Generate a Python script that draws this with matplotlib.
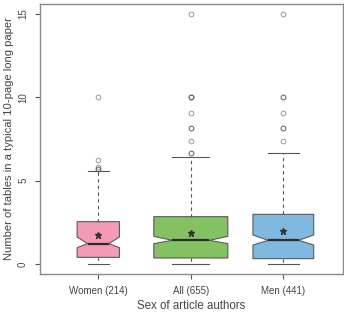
import matplotlib
matplotlib.use("Agg")
import matplotlib.pyplot as plt

categories = ["Women (214)", "All (655)", "Men (441)"]
counts = [214, 655, 441]
medians = [1.22, 1.42, 1.42]
q1 = [0.40, 0.36, 0.32]
q3 = [2.54, 2.84, 2.98]
whislo = [0.0, 0.0, 0.0]
whishi = [5.56, 6.44, 6.66]
means = [1.72, 1.88, 1.96]
ci_lo = [0.98, 1.22, 1.14]
ci_hi = [1.62, 1.66, 1.74]
fliers = [
    [10.0, 6.25, 5.83, 5.71, 5.71],
    [15.0, 10.0, 10.0, 10.0, 9.09, 8.18, 8.18, 7.37, 6.67, 6.67],
    [15.0, 10.0, 10.0, 9.09, 8.18, 8.18, 7.37],
]
colors = ["#F59AB6", "#84C163", "#80B9E0"]

plt.rcParams['font.family'] = ['Liberation Sans', 'DejaVu Sans']

fig = plt.figure(figsize=(3.44, 3.12), dpi=100)
ax = fig.add_axes([40/344, 1-274/312, 303/344, 270/312])

stats = []
for i in range(3):
    stats.append(dict(med=medians[i], q1=q1[i], q3=q3[i], whislo=whislo[i],
                      whishi=whishi[i], mean=means[i], cilo=ci_lo[i], cihi=ci_hi[i],
                      fliers=fliers[i], label=categories[i]))

maxn = max(counts)
widths = [0.8 * (n / maxn) ** 0.5 for n in counts]

bp = ax.bxp(stats, positions=[1, 2, 3], widths=widths, shownotches=True, patch_artist=True,
            showmeans=True, showfliers=True,
            boxprops=dict(edgecolor="#5a5a5a", linewidth=0.8),
            medianprops=dict(color="#2b2b2b", linewidth=1.6),
            whiskerprops=dict(color="#555555", linewidth=0.8, linestyle=(0, (3, 3))),
            capprops=dict(color="#555555", linewidth=0.8),
            flierprops=dict(marker="o", markersize=3.4, markerfacecolor="none",
                            markeredgecolor="#555555", markeredgewidth=0.7, alpha=0.6,
                            linestyle="none"),
            meanprops=dict(marker="*", markersize=5, markerfacecolor="#333333",
                           markeredgecolor="#333333"))
for patch, c in zip(bp["boxes"], colors):
    patch.set_facecolor(c)

ax.set_xlim(0.37, 3.645)
ax.set_ylim(-0.6, 15.6)
ax.set_yticks([0, 5, 10, 15])
ax.set_yticklabels(["0", "5", "10", "15"], rotation=90, va="center")
ax.set_xticks([1, 2, 3])
ax.set_xticklabels(categories)

for s in ax.spines.values():
    s.set_color("#8a8a8a")
    s.set_linewidth(1.0)
ax.tick_params(axis="both", colors="#555555", length=3.6, width=0.8, labelsize=7,
               labelcolor="#444444")
ax.tick_params(axis="y", pad=5)
ax.tick_params(axis="x", pad=5)

ax.set_ylabel("Number of tables in a typical 10-page long paper", fontsize=8.1,
              color="#444444")
ax.yaxis.set_label_coords(-0.085, 0.5)
ax.set_xlabel("Sex of article authors", fontsize=8.3, color="#444444", labelpad=3)

fig.savefig("out.png", dpi=100)
